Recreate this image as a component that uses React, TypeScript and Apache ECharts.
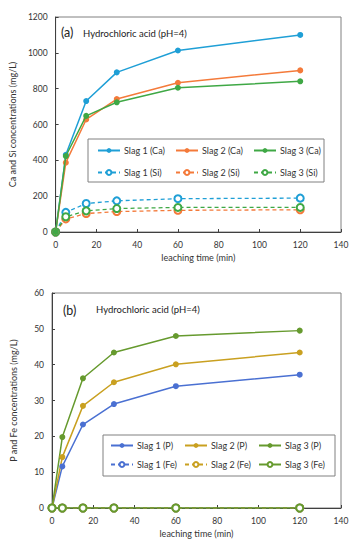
import React, { useEffect, useRef } from "react";
import * as echarts from "echarts";

const times = [0, 5, 15, 30, 60, 120];

// Panel (a)
const caSlag1 = [0, 431, 731, 891, 1013, 1100];
const caSlag2 = [0, 387, 628, 742, 833, 902];
const caSlag3 = [0, 424, 648, 724, 805, 841];
const siSlag1 = [0, 110, 159, 174, 186, 189];
const siSlag2 = [0, 73, 103, 114, 121, 124];
const siSlag3 = [0, 85, 118, 131, 137, 137];

// Panel (b)
const pSlag1 = [0, 11.6, 23.3, 29.0, 34.0, 37.2];
const pSlag2 = [0, 14.2, 28.5, 35.1, 40.1, 43.4];
const pSlag3 = [0, 19.8, 36.2, 43.4, 48.0, 49.5];
const feSlag1 = [0, 0, 0, 0, 0, 0];
const feSlag2 = [0, 0, 0, 0, 0, 0];
const feSlag3 = [0, 0, 0, 0, 0, 0];

const FONT = "Lato";

const colA = ["#1f9fd6", "#f47a3a", "#3fa845"];
const colB = ["#4a70d2", "#c9a020", "#669a2e"];

const pairs = (v: number[]) => times.map((t, i) => [t, v[i]]);

export default function App() {
  const ref = useRef<HTMLDivElement>(null);
  useEffect(() => {
    document.body.style.margin = "0";
    const chart = echarts.init(ref.current!, null, { renderer: "svg" });

    const mk = (
      name: string,
      data: number[],
      color: string,
      panel: number,
      filled: boolean,
      dashed: boolean,
      z: number
    ) => ({
      name,
      type: "line",
      xAxisIndex: panel,
      yAxisIndex: panel,
      data: pairs(data),
      symbol: filled ? "circle" : "emptyCircle",
      symbolSize: filled ? 6 : 7,
      z,
      itemStyle: { color, borderColor: color, borderWidth: filled ? 0 : 1 },
      lineStyle: { color, width: filled ? 1.5 : 1.3, type: dashed ? [4, 3] : "solid" },
    });

    const series = [
      mk("Slag 1 (Ca)", caSlag1, colA[0], 0, true, false, 5),
      mk("Slag 2 (Ca)", caSlag2, colA[1], 0, true, false, 5),
      mk("Slag 3 (Ca)", caSlag3, colA[2], 0, true, false, 6),
      mk("Slag 1 (Si)", siSlag1, colA[0], 0, false, true, 4),
      mk("Slag 2 (Si)", siSlag2, colA[1], 0, false, true, 4),
      mk("Slag 3 (Si)", siSlag3, colA[2], 0, false, true, 4),
      mk("Slag 1 (P)", pSlag1, colB[0], 1, true, false, 5),
      mk("Slag 2 (P)", pSlag2, colB[1], 1, true, false, 5),
      mk("Slag 3 (P)", pSlag3, colB[2], 1, true, false, 5),
      mk("Slag 1 (Fe)", feSlag1, colB[0], 1, false, true, 4),
      mk("Slag 2 (Fe)", feSlag2, colB[1], 1, false, true, 5),
      mk("Slag 3 (Fe)", feSlag3, colB[2], 1, false, false, 6),
    ];

    const legendPos = [
      { x: 97, y: 146, step: 78, y2: 168 },
      { x: 110, y: 441, step: 74, y2: 460 },
    ];
    const legends: any[] = [];
    series.forEach((s, i) => {
      const panel = i < 6 ? 0 : 1;
      const k = i % 6;
      const p = legendPos[panel];
      legends.push({
        data: [s.name],
        left: p.x + (k % 3) * p.step,
        top: k < 3 ? p.y : p.y2,
        itemWidth: 22,
        itemHeight: 6,
        itemGap: 4,
        padding: 0,
        itemStyle: { borderWidth: k < 3 ? 0 : 0.9 },
        textStyle: { fontFamily: FONT, fontSize: 9, color: "#333", padding: [0, 0, 0, -1] },
        selectedMode: false,
      });
    });

    const axisCommon = {
      axisLine: { show: true, lineStyle: { color: "#404040", width: 1 } },
      axisTick: { show: true, inside: true, length: 3, lineStyle: { color: "#404040" } },
      splitLine: { show: false },
      axisLabel: { fontFamily: FONT, fontSize: 8.5, color: "#333", margin: 8, formatter: (v: number) => String(v) },
      nameTextStyle: { fontFamily: FONT, fontSize: 9, color: "#333" },
    };

    chart.setOption({
      animation: false,
      grid: [
        { left: 51, top: 17, right: 14, bottom: 318, show: true, borderColor: "#808080", borderWidth: 1 },
        { left: 52, top: 293, right: 14, bottom: 42, show: true, borderColor: "#808080", borderWidth: 1 },
      ],
      xAxis: [0, 1].map((g) => ({
        ...axisCommon,
        type: "value",
        gridIndex: g,
        min: 0,
        max: 140,
        interval: 20,
        name: "leaching time (min)",
        nameLocation: "middle",
        nameGap: 21,
      })),
      yAxis: [
        {
          ...axisCommon,
          type: "value",
          gridIndex: 0,
          min: 0,
          max: 1200,
          interval: 200,
          name: "Ca and Si concentrations (mg/L)",
          nameLocation: "middle",
          nameGap: 34,
        },
        {
          ...axisCommon,
          type: "value",
          gridIndex: 1,
          min: 0,
          max: 60,
          interval: 10,
          name: "P and Fe concentrations (mg/L)",
          nameLocation: "middle",
          nameGap: 34,
        },
      ],
      title: [
        { text: "(a)", left: 61, top: 26, padding: 0, textStyle: { fontFamily: FONT, fontSize: 12.5, fontWeight: "normal", color: "#222" } },
        { text: "Hydrochloric acid (pH=4)", left: 83, top: 28, padding: 0, textStyle: { fontFamily: FONT, fontSize: 9.5, fontWeight: "normal", color: "#222" } },
        { text: "(b)", left: 63, top: 304, padding: 0, textStyle: { fontFamily: FONT, fontSize: 12.5, fontWeight: "normal", color: "#222" } },
        { text: "Hydrochloric acid (pH=4)", left: 96, top: 304, padding: 0, textStyle: { fontFamily: FONT, fontSize: 9.5, fontWeight: "normal", color: "#222" } },
      ],
      legend: legends,
      graphic: [
        { type: "rect", shape: { x: 88, y: 139, width: 236, height: 43 }, style: { fill: "#fff", stroke: "#808080", lineWidth: 1 }, z: 3 },
        { type: "rect", shape: { x: 103, y: 435, width: 232, height: 41 }, style: { fill: "#fff", stroke: "#808080", lineWidth: 1 }, z: 3 },
      ],
      series,
    });
    return () => chart.dispose();
  }, []);
  return <div ref={ref} style={{ width: 355, height: 550 }} />;
}
